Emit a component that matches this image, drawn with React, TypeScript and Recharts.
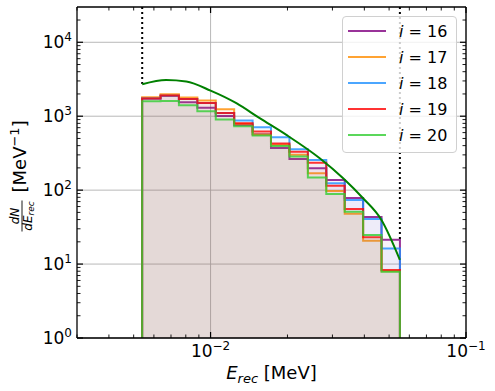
import React from 'react';
import {
  ComposedChart,
  Area,
  Line,
  XAxis,
  YAxis,
  CartesianGrid,
  ReferenceLine,
  Legend,
} from 'recharts';

// log-spaced recoil energy bin edges [MeV]
const binEdges = [
  0.005395, 0.00637, 0.007518, 0.008877, 0.01048, 0.01237, 0.01461, 0.01724,
  0.02036, 0.02404, 0.02838, 0.03351, 0.03956, 0.0467, 0.05513,
];

// dN/dE per bin for each i
const hist16 = [1730, 1890, 1550, 1300, 1010, 763, 570, 372, 264, 198, 137, 78.4, 43.4, 21.4];
const hist17 = [1800, 1980, 1790, 1626, 1245, 790, 564, 410, 300, 169, 97.5, 48.1, 20.7, 8.0];
const hist18 = [1735, 1895, 1710, 1510, 1105, 872, 710, 520, 357, 256, 124, 73.7, 40.8, 16.2];
const hist19 = [1740, 1900, 1714, 1513, 1109, 804, 620, 428, 331, 235, 115, 55.7, 23.1, 8.3];
const hist20 = [1596, 1600, 1409, 1169, 900, 733, 547, 396, 285, 148, 89, 51.2, 24.8, 7.9];

// analytic spectrum (green curve)
const curveE = [0.0054, 0.0067, 0.00803, 0.01, 0.01262, 0.01557, 0.01981, 0.02675, 0.03304, 0.03954, 0.04667, 0.0551];
const curveN = [2700, 3080, 2940, 2220, 1500, 940, 558, 270, 145, 77.7, 39.5, 11.4];

const cutLow = 0.0054;
const cutHigh = 0.0551;
const yTop = 30000;

const seriesLabels = ['16', '17', '18', '19', '20'];
const seriesColors = ['#800080', '#ff8c00', '#1e90ff', '#ff0000', '#32cd32'];
const seriesData = [hist16, hist17, hist18, hist19, hist20];

const xMajor = [0.01, 0.1];
const xMinor = [0.003, 0.004, 0.005, 0.006, 0.007, 0.008, 0.009, 0.02, 0.03, 0.04, 0.05, 0.06, 0.07, 0.08, 0.09];
const yMajor = [1, 10, 100, 1000, 10000];
const yMinor = [
  2, 3, 4, 5, 6, 7, 8, 9, 20, 30, 40, 50, 60, 70, 80, 90, 200, 300, 400, 500, 600, 700, 800, 900,
  2000, 3000, 4000, 5000, 6000, 7000, 8000, 9000, 20000,
];

const FONT = 'DejaVu Sans';

const toSteps = (vals: number[]) => {
  const pts = [{ e: binEdges[0], n: 1 }];
  vals.forEach((v, i) => pts.push({ e: binEdges[i], n: v }));
  pts.push({ e: binEdges[binEdges.length - 1], n: vals[vals.length - 1] });
  pts.push({ e: binEdges[binEdges.length - 1], n: 1 });
  return pts;
};

const curveData = curveE.map((e, i) => ({ e, n: curveN[i] }));

// the dotted cut lines stop where the histograms / curve start
const lowStop = Math.max(curveN[0], ...seriesData.map((s) => s[0]));
const highStop = Math.max(...seriesData.map((s) => s[s.length - 1]));

const expText = (v: number) => {
  const p = Math.round(Math.log10(v));
  return p < 0 ? '\u2212' + Math.abs(p) : String(p);
};

const makeTick = (side: 'bottom' | 'top' | 'left' | 'right', majors: number[], labels: boolean) =>
  (props: any) => {
    const { x, y, payload } = props;
    const major = majors.includes(payload.value);
    const len = major ? 6 : 3.5;
    const sw = major ? 1.2 : 0.9;
    let line;
    if (side === 'bottom') line = <line x1={x} x2={x} y1={y} y2={y - len} stroke="#000" strokeWidth={sw} />;
    else if (side === 'top') line = <line x1={x} x2={x} y1={y} y2={y + len} stroke="#000" strokeWidth={sw} />;
    else if (side === 'left') line = <line x1={x} x2={x + len} y1={y} y2={y} stroke="#000" strokeWidth={sw} />;
    else line = <line x1={x} x2={x - len} y1={y} y2={y} stroke="#000" strokeWidth={sw} />;
    let label = null;
    if (labels && major) {
      if (side === 'bottom') {
        label = (
          <text x={x} y={y + 19} textAnchor="middle" fontSize={17} fontFamily={FONT} fill="#000">
            10<tspan dy={-7} fontSize={12}>{expText(payload.value)}</tspan>
          </text>
        );
      } else {
        label = (
          <text x={x - 5} y={y + 6} textAnchor="end" fontSize={17} fontFamily={FONT} fill="#000">
            10<tspan dy={-7} fontSize={12}>{expText(payload.value)}</tspan>
          </text>
        );
      }
    }
    return (
      <g>
        {line}
        {label}
      </g>
    );
  };

const XLabel = (props: any) => {
  const { viewBox } = props;
  const cx = viewBox.x + viewBox.width / 2;
  const base = viewBox.y + 41;
  return (
    <text x={cx} y={base} textAnchor="middle" fontSize={18} fontFamily={FONT} fill="#000">
      <tspan fontStyle="italic">E</tspan>
      <tspan fontStyle="italic" fontSize={13} dy={4}>rec</tspan>
      <tspan dy={-4}> [MeV]</tspan>
    </text>
  );
};

const YLabel = (props: any) => {
  const { viewBox } = props;
  const cx = viewBox.x - 56;
  const cy = viewBox.y + viewBox.height / 2;
  return (
    <g transform={`translate(${cx},${cy}) rotate(-90)`} fontFamily={FONT} fill="#000">
      <text x={-43.5} y={-1} textAnchor="middle" fontSize={12} fontStyle="italic">dN</text>
      <line x1={-59} x2={-28} y1={2} y2={2} stroke="#000" strokeWidth={0.9} />
      <text x={-43.5} y={12} textAnchor="middle" fontSize={12} fontStyle="italic">
        dE<tspan fontSize={9} dy={2}>rec</tspan>
      </text>
      <text x={-20} y={6} textAnchor="start" fontSize={18}>
        [MeV<tspan fontSize={13} dy={-7}>{'\u2212'}1</tspan><tspan dy={7}>]</tspan>
      </text>
    </g>
  );
};

const LegendBox = () => (
  <div
    style={{
      boxSizing: 'border-box',
      width: 115,
      height: 137,
      border: '1px solid #d0d0d0',
      borderRadius: 4,
      background: 'rgba(255,255,255,0.8)',
      padding: '1px 0 0 5px',
      fontFamily: FONT,
      fontSize: 16,
      color: '#000',
    }}
  >
    {seriesLabels.map((s, i) => (
      <div key={s} style={{ display: 'flex', alignItems: 'center', height: 26 }}>
        <span
          style={{
            display: 'inline-block',
            width: 38,
            height: 0,
            borderTop: `2px solid ${seriesColors[i]}`,
            opacity: 0.8,
            marginRight: 13,
          }}
        />
        <span style={{ whiteSpace: 'pre' }}>
          <i>i</i> = {s}
        </span>
      </div>
    ))}
  </div>
);

export default function App() {
  return (
    <div style={{ position: 'absolute', left: 0, top: 0, width: 495, height: 391, background: '#fff' }}>
      <ComposedChart width={495} height={391} margin={{ top: 6, right: 28, bottom: 52, left: 76 }}>
        <CartesianGrid
          stroke="#b0b0b0"
          strokeWidth={0.9}
          verticalValues={xMajor}
          horizontalValues={yMajor}
        />
        <XAxis
          dataKey="e"
          type="number"
          scale="log"
          domain={[0.003, 0.1]}
          allowDataOverflow
          ticks={[...xMajor, ...xMinor]}
          interval={0}
          height={1}
          tickLine={false}
          tickSize={0}
          tickMargin={0}
          axisLine={{ stroke: '#000', strokeWidth: 1.3 }}
          tick={makeTick('bottom', xMajor, true)}
          label={{ content: XLabel }}
        />
        <XAxis
          xAxisId="top"
          orientation="top"
          dataKey="e"
          type="number"
          scale="log"
          domain={[0.003, 0.1]}
          allowDataOverflow
          ticks={[...xMajor, ...xMinor]}
          interval={0}
          height={1}
          tickLine={false}
          tickSize={0}
          tickMargin={0}
          axisLine={{ stroke: '#000', strokeWidth: 1.3 }}
          tick={makeTick('top', xMajor, false)}
        />
        <YAxis
          dataKey="n"
          type="number"
          scale="log"
          domain={[1, yTop]}
          allowDataOverflow
          ticks={[...yMajor, ...yMinor]}
          interval={0}
          width={1}
          tickLine={false}
          tickSize={0}
          tickMargin={0}
          axisLine={{ stroke: '#000', strokeWidth: 1.3 }}
          tick={makeTick('left', yMajor, true)}
          label={{ content: YLabel }}
        />
        <YAxis
          yAxisId="right"
          orientation="right"
          dataKey="n"
          type="number"
          scale="log"
          domain={[1, yTop]}
          allowDataOverflow
          ticks={[...yMajor, ...yMinor]}
          interval={0}
          width={1}
          tickLine={false}
          tickSize={0}
          tickMargin={0}
          axisLine={{ stroke: '#000', strokeWidth: 1.3 }}
          tick={makeTick('right', yMajor, false)}
        />
        <ReferenceLine
          segment={[{ x: cutLow, y: yTop }, { x: cutLow, y: lowStop }]}
          stroke="#000"
          strokeWidth={2}
          strokeDasharray="2 3"
        />
        <ReferenceLine
          segment={[{ x: cutHigh, y: yTop }, { x: cutHigh, y: highStop }]}
          stroke="#000"
          strokeWidth={2}
          strokeDasharray="2 3"
        />
        {seriesData.map((vals, i) => (
          <Area
            key={seriesLabels[i]}
            data={toSteps(vals)}
            dataKey="n"
            type="stepAfter"
            stroke={seriesColors[i]}
            strokeOpacity={0.8}
            strokeWidth={2}
            fill={seriesColors[i]}
            fillOpacity={0.05}
            isAnimationActive={false}
            dot={false}
            activeDot={false}
          />
        ))}
        <Line
          data={curveData}
          dataKey="n"
          type="monotone"
          stroke="#008000"
          strokeWidth={2}
          dot={false}
          activeDot={false}
          isAnimationActive={false}
        />
        <Legend
          layout="vertical"
          align="center"
          verticalAlign="middle"
          wrapperStyle={{ left: 342, top: 16, width: 115 }}
          content={LegendBox}
        />
      </ComposedChart>
    </div>
  );
}
